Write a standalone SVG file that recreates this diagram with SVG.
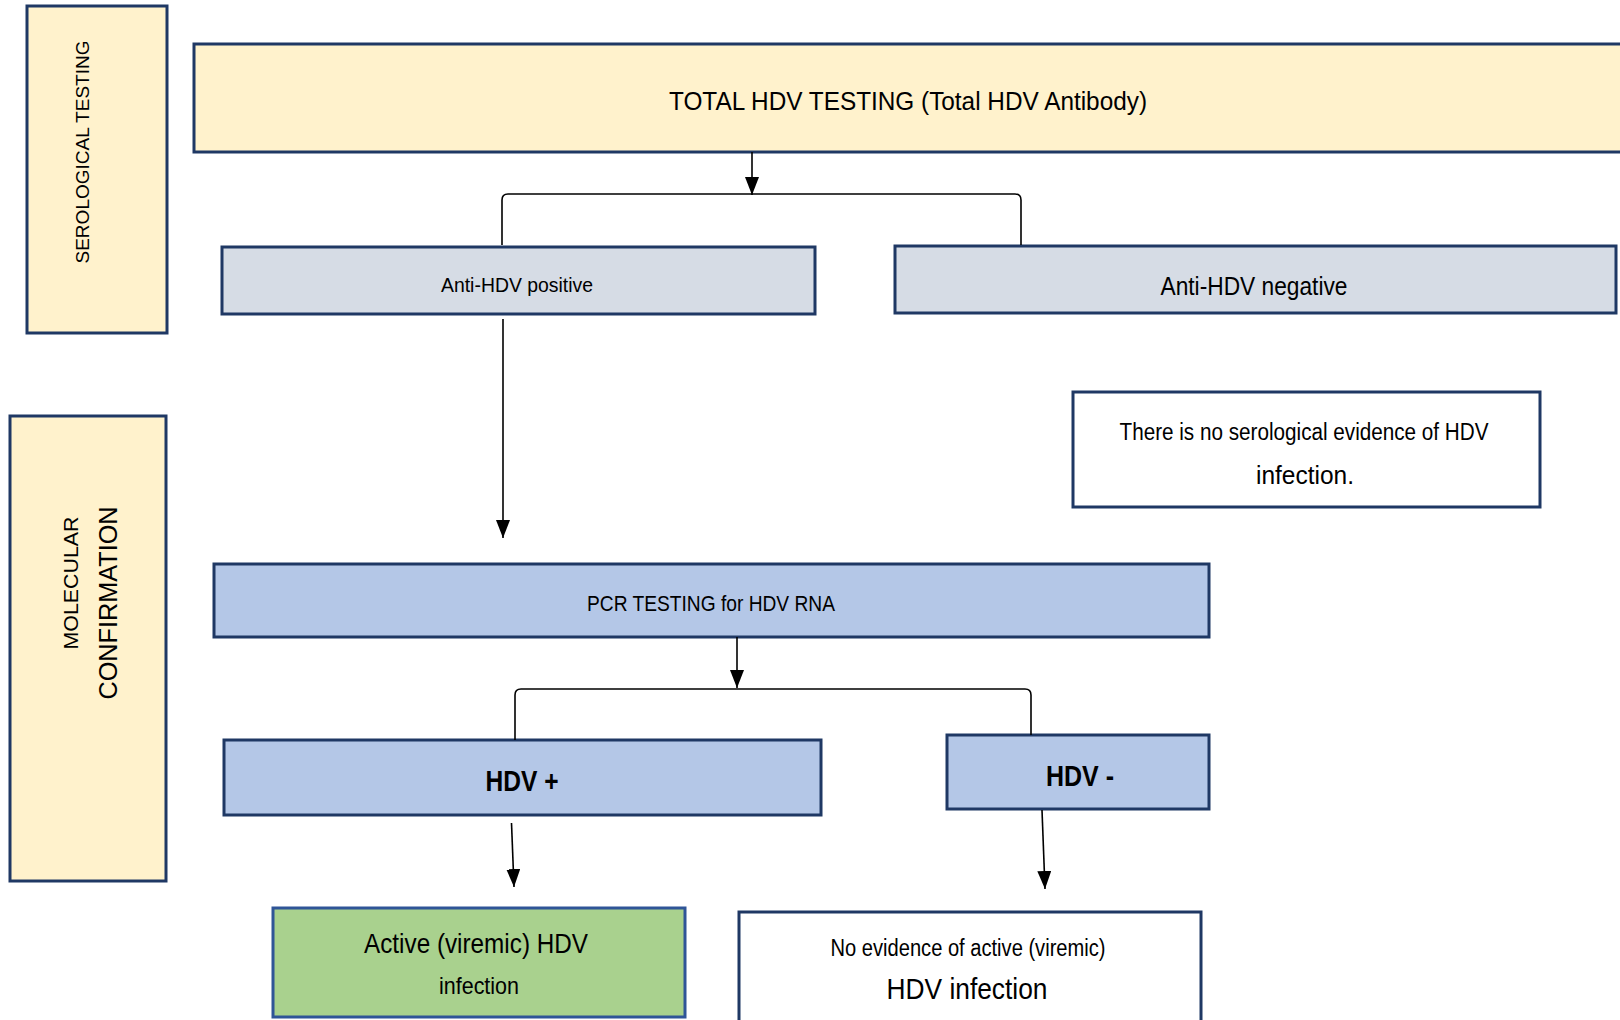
<svg xmlns="http://www.w3.org/2000/svg" width="1620" height="1020" viewBox="0 0 1620 1020">
<style>
.box{stroke:#1f3864;stroke-width:3}
.yel{fill:#fff2cc}
.gry{fill:#d6dce5}
.blu{fill:#b4c7e7}
.grn{fill:#a9d18e;stroke:#2f5597}
.wht{fill:#ffffff}
text{font-family:"Liberation Sans",Arial,sans-serif;fill:#000;text-anchor:middle}
.b{font-weight:bold}
.conn{fill:none;stroke:#000;stroke-width:1.6}
</style>
<defs>
<marker id="ah" viewBox="0 0 18 14" refX="18" refY="7" markerWidth="18" markerHeight="14" markerUnits="userSpaceOnUse" orient="auto">
<path d="M0,0 L18,7 L0,14 z" fill="#000"/>
</marker>
</defs>
<rect width="1620" height="1020" fill="#fff"/>

<g id="serological-testing">
<rect class="box yel" x="27" y="6" width="140" height="327"/>
<text transform="translate(89,152) rotate(-90)" font-size="19" textLength="223" lengthAdjust="spacingAndGlyphs">SEROLOGICAL TESTING</text>
</g>

<g id="molecular-confirmation">
<rect class="box yel" x="10" y="416" width="156" height="465"/>
<text transform="translate(78,583) rotate(-90)" font-size="21" textLength="133" lengthAdjust="spacingAndGlyphs">MOLECULAR</text>
<text transform="translate(117,603) rotate(-90)" font-size="25" textLength="193" lengthAdjust="spacingAndGlyphs">CONFIRMATION</text>
</g>

<g id="total-hdv-testing">
<rect class="box yel" x="194" y="44" width="1440" height="108"/>
<text x="908" y="110" font-size="26" textLength="478" lengthAdjust="spacingAndGlyphs">TOTAL HDV TESTING (Total HDV Antibody)</text>
</g>

<g id="anti-hdv-positive">
<rect class="box gry" x="222" y="247" width="593" height="67"/>
<text x="517" y="292" font-size="21" textLength="152" lengthAdjust="spacingAndGlyphs">Anti-HDV positive</text>
</g>

<g id="anti-hdv-negative">
<rect class="box gry" x="895" y="246" width="721" height="67"/>
<text x="1254" y="295" font-size="25" textLength="187" lengthAdjust="spacingAndGlyphs">Anti-HDV negative</text>
</g>

<g id="no-serological-evidence">
<rect class="box wht" x="1073" y="392" width="467" height="115"/>
<text x="1304" y="440" font-size="23" textLength="369" lengthAdjust="spacingAndGlyphs">There is no serological evidence of HDV</text>
<text x="1305" y="484" font-size="26" textLength="98" lengthAdjust="spacingAndGlyphs">infection.</text>
</g>

<g id="pcr-testing">
<rect class="box blu" x="214" y="564" width="995" height="73"/>
<text x="711" y="611" font-size="22" textLength="248" lengthAdjust="spacingAndGlyphs">PCR TESTING for HDV RNA</text>
</g>

<g id="hdv-positive">
<rect class="box blu" x="224" y="740" width="597" height="75"/>
<text class="b" x="522" y="791" font-size="30" textLength="73" lengthAdjust="spacingAndGlyphs">HDV +</text>
</g>

<g id="hdv-negative">
<rect class="box blu" x="947" y="735" width="262" height="74"/>
<text class="b" x="1080" y="786" font-size="30" textLength="68" lengthAdjust="spacingAndGlyphs">HDV -</text>
</g>

<g id="active-infection">
<rect class="box grn" x="273" y="908" width="412" height="109"/>
<text x="476" y="953" font-size="28" textLength="224" lengthAdjust="spacingAndGlyphs">Active (viremic) HDV</text>
<text x="479" y="994" font-size="24" textLength="80" lengthAdjust="spacingAndGlyphs">infection</text>
</g>

<g id="no-active-infection">
<rect class="box wht" x="739" y="912" width="462" height="120"/>
<text x="968" y="956" font-size="23" textLength="275" lengthAdjust="spacingAndGlyphs">No evidence of active (viremic)</text>
<text x="967" y="999" font-size="30" textLength="161" lengthAdjust="spacingAndGlyphs">HDV infection</text>
</g>

<g id="connectors">
<path class="conn" d="M752,152 L752,195" marker-end="url(#ah)"/>
<path class="conn" d="M502,245 L502,200 Q502,194 508,194 L1015,194 Q1021,194 1021,200 L1021,245"/>
<path class="conn" d="M503,319 L503,538" marker-end="url(#ah)"/>
<path class="conn" d="M737,637 L737,688" marker-end="url(#ah)"/>
<path class="conn" d="M515,740 L515,695 Q515,689 521,689 L1025,689 Q1031,689 1031,695 L1031,735"/>
<path class="conn" d="M511.5,823 L514,887" marker-end="url(#ah)"/>
<path class="conn" d="M1042,810 L1045,889" marker-end="url(#ah)"/>
</g>
</svg>
